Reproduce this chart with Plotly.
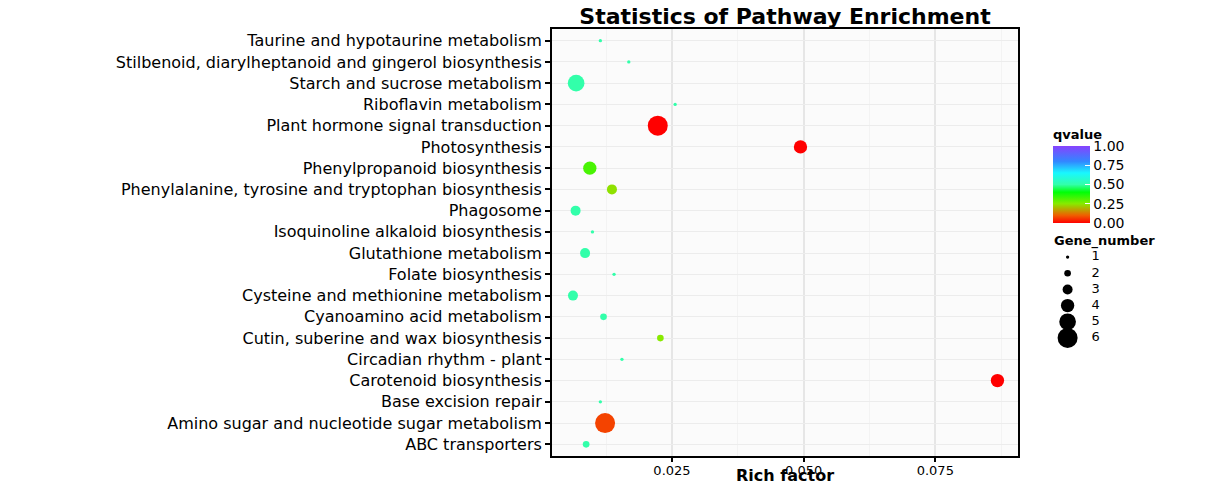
import colorsys
import plotly.graph_objects as go

pathways = [
    "Taurine and hypotaurine metabolism",
    "Stilbenoid, diarylheptanoid and gingerol biosynthesis",
    "Starch and sucrose metabolism",
    "Riboflavin metabolism",
    "Plant hormone signal transduction",
    "Photosynthesis",
    "Phenylpropanoid biosynthesis",
    "Phenylalanine, tyrosine and tryptophan biosynthesis",
    "Phagosome",
    "Isoquinoline alkaloid biosynthesis",
    "Glutathione metabolism",
    "Folate biosynthesis",
    "Cysteine and methionine metabolism",
    "Cyanoamino acid metabolism",
    "Cutin, suberine and wax biosynthesis",
    "Circadian rhythm - plant",
    "Carotenoid biosynthesis",
    "Base excision repair",
    "Amino sugar and nucleotide sugar metabolism",
    "ABC transporters",
]
rich_factor = [0.0114, 0.0168, 0.0068, 0.0256, 0.0223, 0.0494, 0.0094, 0.0136,
               0.0067, 0.0099, 0.0085, 0.0140, 0.0062, 0.0120, 0.0228, 0.0155,
               0.0868, 0.0114, 0.0123, 0.0087]
gene_number = [1, 1, 5, 1, 6, 4, 4, 3, 3, 1, 3, 1, 3, 2, 2, 1, 4, 1, 6, 2]
qvalue = [0.50, 0.50, 0.50, 0.50, 0.00, 0.00, 0.32, 0.24, 0.50, 0.50,
          0.50, 0.50, 0.50, 0.50, 0.25, 0.50, 0.00, 0.50, 0.07, 0.50]

size_levels = [1, 2, 3, 4, 5, 6]
size_labels = ["1", "2", "3", "4", "5", "6"]
x_ticks = [0.025, 0.050, 0.075]
x_tick_text = ["0.025", "0.050", "0.075"]
x_minor = [0.0125, 0.0375, 0.0625, 0.0875]
cbar_ticks = [0.0, 0.25, 0.5, 0.75, 1.0]
cbar_text = ["0.00", "0.25", "0.50", "0.75", "1.00"]


def hue_hex(h, light=0.5):
    r, g, b = colorsys.hls_to_rgb(h / 360.0, light, 1.0)
    return "#%02x%02x%02x" % (int(r * 255), int(g * 255), int(b * 255))


hue_stops = [(0.0, 0, 0.5), (0.1, 24, 0.47), (0.25, 85, 0.46), (0.4, 122, 0.5),
             (0.5, 155, 0.6), (0.65, 182, 0.55), (0.8, 215, 0.6), (1.0, 262, 0.63)]
colorscale = [[s, hue_hex(h, l)] for s, h, l in hue_stops]

SIZEREF = 0.3
FONT = "DejaVu Sans"

# page body margin is removed (post_script), so figure pixels = window pixels
W, H = 1205, 486
ML = 552
MT = 29
MB = H - 456
MR = 60
PW = W - ML - MR
PH = H - MT - MB


def px_x(p):  # window pixel -> paper x
    return (p - ML) / PW


def px_y(p):  # window pixel -> paper y
    return (H - MB - p) / PH


fig = go.Figure()
fig.add_trace(go.Scatter(
    x=rich_factor, y=pathways, mode="markers", showlegend=False,
    xaxis="x", yaxis="y",
    marker=dict(
        size=gene_number, sizemode="diameter", sizeref=SIZEREF, opacity=1,
        color=qvalue, colorscale=colorscale, cmin=0, cmax=1,
        line=dict(width=0),
        colorbar=dict(
            title=dict(text="<b>qvalue</b>", side="top",
                       font=dict(family=FONT, size=13, color="black")),
            x=px_x(1053), xanchor="left", xref="paper",
            y=px_y(126), yanchor="top",
            len=97, lenmode="pixels", thickness=37,
            tickvals=cbar_ticks, ticktext=cbar_text,
            ticks="inside", ticklen=5, tickcolor="white",
            tickfont=dict(family=FONT, size=14, color="black"),
            outlinewidth=0, xpad=0, ypad=0,
        ),
    ),
))

# size legend drawn on its own small axes
fig.add_trace(go.Scatter(
    x=[0.22] * len(size_levels), y=size_levels, mode="markers",
    showlegend=False, xaxis="x2", yaxis="y2", hoverinfo="skip",
    cliponaxis=False,
    marker=dict(size=size_levels, sizemode="diameter", sizeref=SIZEREF,
                color="black", opacity=1, line=dict(width=0)),
))
fig.add_trace(go.Scatter(
    x=[0.52] * len(size_levels), y=size_levels, mode="text",
    text=size_labels, textposition="middle right", cliponaxis=False,
    textfont=dict(family=FONT, size=13, color="black"),
    showlegend=False, xaxis="x2", yaxis="y2", hoverinfo="skip",
))

fig.update_layout(
    width=W, height=H,
    margin=dict(l=ML, r=MR, t=MT, b=MB),
    paper_bgcolor="white", plot_bgcolor="white",
    font=dict(family=FONT, color="black"),
    showlegend=False,
    title=dict(text="<b>Statistics of Pathway Enrichment</b>", x=px_x(785),
               xref="paper", xanchor="center",
               y=1 - 16 / H, yref="container", yanchor="middle",
               font=dict(family=FONT, size=22, color="black")),
    xaxis=dict(
        domain=[0, px_x(1018)],
        range=[0.00222, 0.0907], tickvals=x_ticks, ticktext=x_tick_text,
        ticks="outside", ticklen=4, tickwidth=1.5, tickcolor="black",
        tickfont=dict(family=FONT, size=13, color="black"),
        ticklabelstandoff=-3,
        showline=True, linecolor="black", linewidth=2, mirror=True,
        showgrid=True, gridcolor="#e6e6e6", gridwidth=1.5, zeroline=False,
        minor=dict(tickvals=x_minor, showgrid=True, gridcolor="#f3f3f3",
                   gridwidth=1, ticklen=0),
        automargin=False,
    ),
    yaxis=dict(
        type="category", categoryorder="array", categoryarray=pathways,
        range=[len(pathways) - 0.45, -0.55],
        ticks="outside", ticklen=5, tickwidth=1.5, tickcolor="black",
        tickfont=dict(family=FONT, size=16, color="black"),
        showline=True, linecolor="black", linewidth=2, mirror=True,
        showgrid=True, gridcolor="#ececec", gridwidth=1, zeroline=False,
        automargin=False,
    ),
    xaxis2=dict(domain=[px_x(1050), px_x(1130)], range=[0, 1], anchor="y2",
                visible=False, fixedrange=True),
    yaxis2=dict(domain=[px_y(346), px_y(249)], range=[6.5, 0.5], anchor="x2",
                visible=False, fixedrange=True),
    shapes=[dict(type="rect", xref="x domain", yref="y domain",
                 x0=0, x1=1, y0=0, y1=1, fillcolor="#fbfbfb",
                 line=dict(width=0), layer="below")],
    annotations=[
        dict(text="<b>Gene_number</b>", xref="paper", yref="paper",
             x=px_x(1052), y=px_y(241), xanchor="left", yanchor="middle",
             showarrow=False, font=dict(family=FONT, size=13, color="black")),
        dict(text="<b>Rich factor</b>", xref="x domain", yref="paper",
             x=0.5, y=px_y(486), xanchor="center", yanchor="bottom",
             showarrow=False, borderpad=0,
             font=dict(family=FONT, size=16, color="black")),
    ],
)

fig.write_html(
    "out.html",
    config={"displayModeBar": False},
    post_script="document.body.style.margin='0';document.body.style.overflow='hidden';",
)
